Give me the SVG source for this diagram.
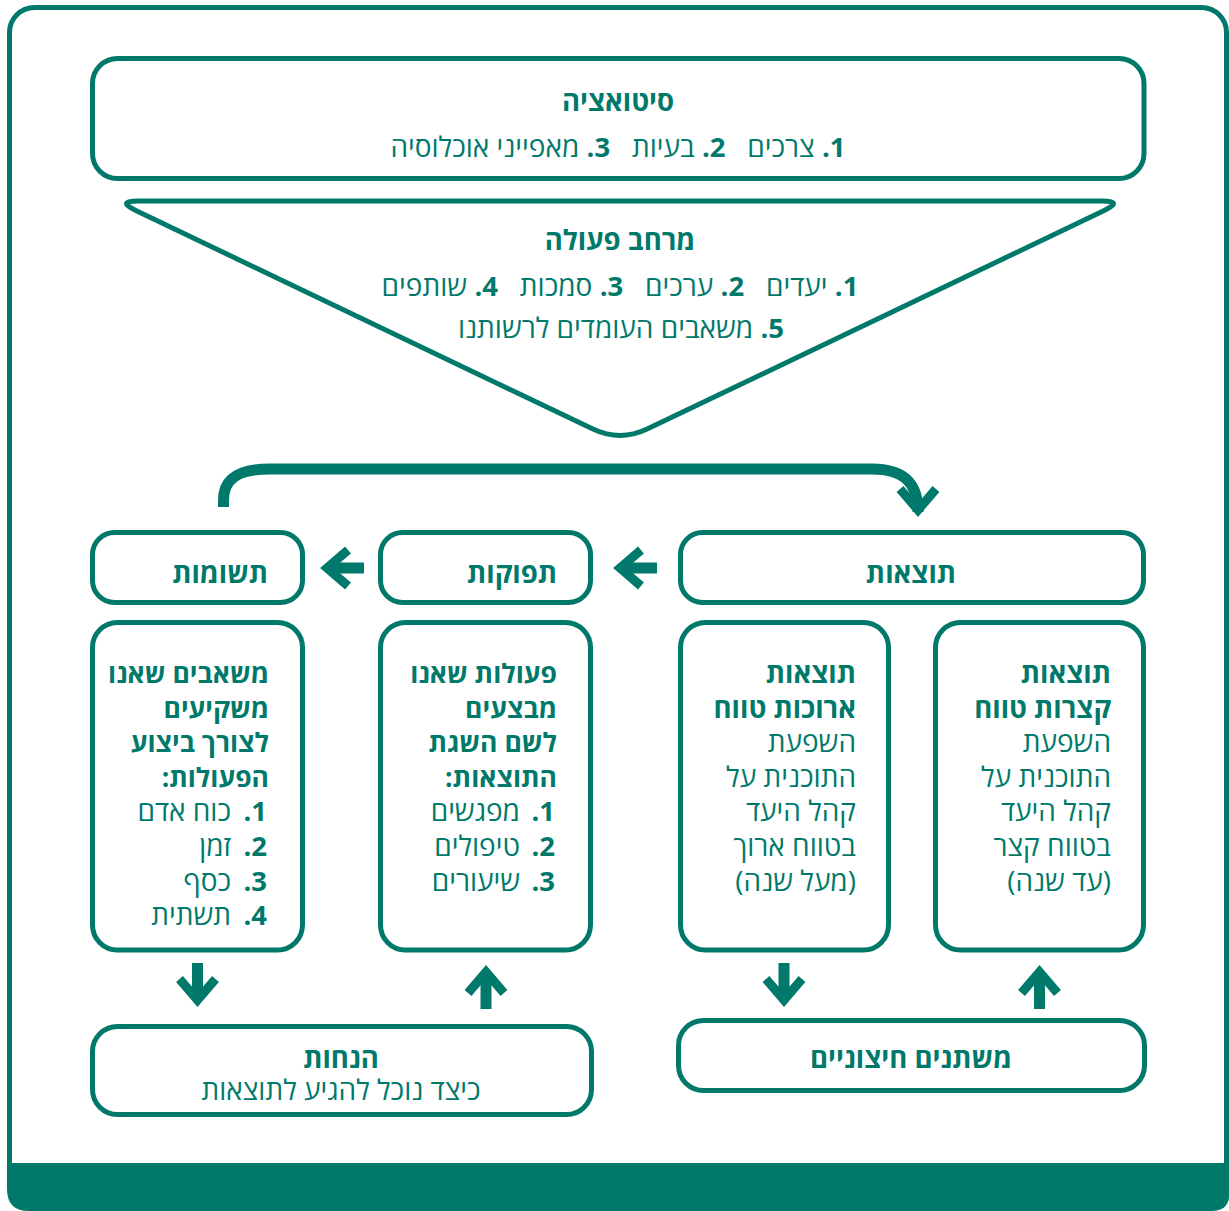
<svg xmlns="http://www.w3.org/2000/svg" xmlns:xlink="http://www.w3.org/1999/xlink" width="1229" height="1211" viewBox="0 0 1229 1211">
<style>
.box{fill:none;stroke:#00796b;stroke-width:5}
.t{font-family:'Open Sans','Liberation Sans','DejaVu Sans',sans-serif;fill:#00796b;font-size:28px}
.b{font-weight:bold;font-size:27.5px}
.t .b{font-size:27.5px}
.r{direction:rtl;text-anchor:start}
.c{direction:rtl;text-anchor:middle}
.conn{fill:none;stroke:#00796b;stroke-width:11}
.shaft{stroke:#00796b;stroke-width:11}
.head{fill:none;stroke:#00796b;stroke-width:9;stroke-linejoin:miter;stroke-miterlimit:10;stroke-linecap:butt}
</style>
<defs>
<polyline id="head" class="head" points="-18,-29 0,-8 18,-29"/>
<g id="arrow">
<line class="shaft" x1="0" y1="-45" x2="0" y2="-10"/>
<use xlink:href="#head" href="#head"/>
</g>
</defs>
<rect width="1229" height="1211" fill="#ffffff"/>
<g id="frame">
<rect x="9.5" y="7.5" width="1217" height="1190" rx="25" class="box" stroke-width="5.5"/>
<path d="M7,1163 H1229.5 V1193 Q1229.5,1211 1211.5,1211 H29 Q7,1211 7,1189 Z" fill="#00796b"/>
</g>
<g id="situation">
<rect x="92.5" y="58.5" width="1051.5" height="120" rx="25" class="box"/>
<text class="t b c" x="618" y="111">סיטואציה</text>
<text class="t c" x="618" y="157" xml:space="preserve"><tspan class="b">1.</tspan> צרכים   <tspan class="b">2.</tspan> בעיות   <tspan class="b">3.</tspan> מאפייני אוכלוסיה</text>
</g>
<g id="action-space">
<path class="box" d="M138,201 L1102,201 Q1124,201 1104.2,210.5 L647.1,429.1 Q620,442 592.9,429.1 L135.8,210.5 Q116,201 138,201 Z"/>
<text class="t b c" x="620" y="250">מרחב פעולה</text>
<text class="t c" x="620" y="296" xml:space="preserve"><tspan class="b">1.</tspan> יעדים   <tspan class="b">2.</tspan> ערכים   <tspan class="b">3.</tspan> סמכות   <tspan class="b">4.</tspan> שותפים</text>
<text class="t c" x="621" y="338"><tspan class="b">5.</tspan> משאבים העומדים לרשותנו</text>
</g>
<g id="outcomes">
<rect x="680.5" y="532.5" width="463" height="70" rx="22" class="box"/>
<text class="t b c" x="911" y="583">תוצאות</text>
</g>
<g id="outputs">
<rect x="380.5" y="532.5" width="210" height="70" rx="22" class="box"/>
<text class="t b r" x="557" y="583">תפוקות</text>
</g>
<g id="inputs">
<rect x="92.5" y="532.5" width="210" height="70" rx="22" class="box"/>
<text class="t b r" x="268" y="583">תשומות</text>
</g>
<g id="inputs-detail">
<rect x="92.5" y="622.5" width="210" height="327.5" rx="25" class="box"/>
<text class="t b r" x="269" y="683" style="font-size:26.5px">משאבים שאנו</text>
<text class="t b r" x="269" y="717.6" style="font-size:26.5px">משקיעים</text>
<text class="t b r" x="269" y="752.2" style="font-size:26.5px">לצורך ביצוע</text>
<text class="t b r" x="269" y="786.8" style="font-size:26.5px">הפעולות:</text>
<text class="t b r" x="267" y="821.4">1.</text><text class="t r" x="231" y="821.4">כוח אדם</text>
<text class="t b r" x="267" y="856">2.</text><text class="t r" x="231" y="856">זמן</text>
<text class="t b r" x="267" y="890.6">3.</text><text class="t r" x="231" y="890.6">כסף</text>
<text class="t b r" x="267" y="925.2">4.</text><text class="t r" x="231" y="925.2">תשתית</text>
</g>
<g id="outputs-detail">
<rect x="380.5" y="622.5" width="210" height="327.5" rx="25" class="box"/>
<text class="t b r" x="557" y="683" style="font-size:26.5px">פעולות שאנו</text>
<text class="t b r" x="557" y="717.6" style="font-size:26.5px">מבצעים</text>
<text class="t b r" x="557" y="752.2" style="font-size:26.5px">לשם השגת</text>
<text class="t b r" x="557" y="786.8" style="font-size:26.5px">התוצאות:</text>
<text class="t b r" x="555" y="821.4">1.</text><text class="t r" x="520" y="821.4">מפגשים</text>
<text class="t b r" x="555" y="856">2.</text><text class="t r" x="520" y="856">טיפולים</text>
<text class="t b r" x="555" y="890.6">3.</text><text class="t r" x="520" y="890.6">שיעורים</text>
</g>
<g id="long-term">
<rect x="680.5" y="622.5" width="208" height="327.5" rx="25" class="box"/>
<text class="t b r" x="856" y="683">תוצאות</text>
<text class="t b r" x="856" y="717.6">ארוכות טווח</text>
<text class="t r" x="856" y="752.2">השפעת</text>
<text class="t r" x="856" y="786.8">התוכנית על</text>
<text class="t r" x="856" y="821.4">קהל היעד</text>
<text class="t r" x="856" y="856">בטווח ארוך</text>
<text class="t r" x="856" y="890.6">(מעל שנה)</text>
</g>
<g id="short-term">
<rect x="935.5" y="622.5" width="208" height="327.5" rx="25" class="box"/>
<text class="t b r" x="1111" y="683">תוצאות</text>
<text class="t b r" x="1111" y="717.6">קצרות טווח</text>
<text class="t r" x="1111" y="752.2">השפעת</text>
<text class="t r" x="1111" y="786.8">התוכנית על</text>
<text class="t r" x="1111" y="821.4">קהל היעד</text>
<text class="t r" x="1111" y="856">בטווח קצר</text>
<text class="t r" x="1111" y="890.6">(עד שנה)</text>
</g>
<g id="assumptions">
<rect x="92.5" y="1026.5" width="499" height="88" rx="25" class="box"/>
<text class="t b c" x="341" y="1068">הנחות</text>
<text class="t c" x="341" y="1100">כיצד נוכל להגיע לתוצאות</text>
</g>
<g id="external">
<rect x="678.5" y="1020.5" width="466" height="70" rx="25" class="box"/>
<text class="t b c" x="911" y="1068">משתנים חיצוניים</text>
</g>
<g id="connectors">
<path class="conn" d="M223.5,507 V500 C223.5,480 236,469 270,469 H872 C903,469 918,482 918,512"/>
<use xlink:href="#head" href="#head" transform="translate(918,518)"/>
<use xlink:href="#arrow" href="#arrow" transform="translate(612,568) rotate(90)"/>
<use xlink:href="#arrow" href="#arrow" transform="translate(319,568) rotate(90)"/>
<use xlink:href="#arrow" href="#arrow" transform="translate(197.5,1008)"/>
<use xlink:href="#arrow" href="#arrow" transform="translate(486,964) rotate(180)"/>
<use xlink:href="#arrow" href="#arrow" transform="translate(784,1008)"/>
<use xlink:href="#arrow" href="#arrow" transform="translate(1039.5,964) rotate(180)"/>
</g>
</svg>
